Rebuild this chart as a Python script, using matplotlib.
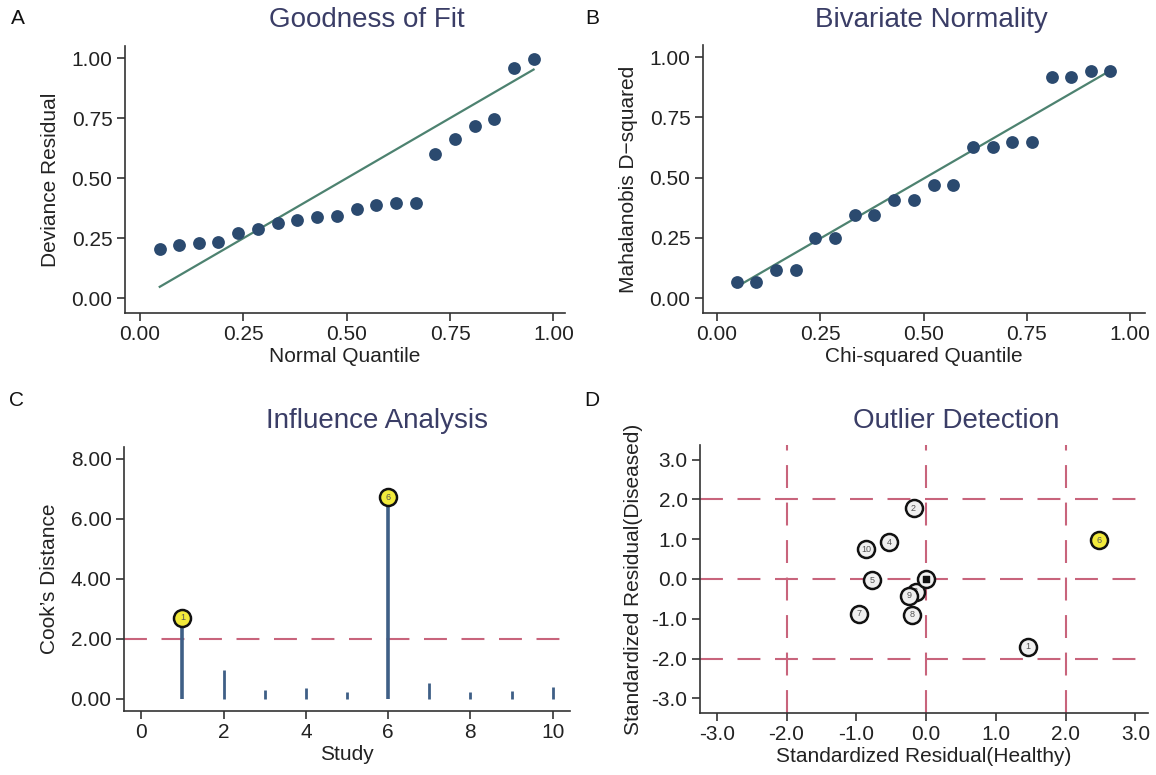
import matplotlib
matplotlib.use("Agg")
import matplotlib.pyplot as plt

plt.rcParams['font.family'] = ['Liberation Sans', 'DejaVu Sans']
plt.rcParams['axes.unicode_minus'] = False

# ---- data ----
quantile = [0.048, 0.095, 0.143, 0.190, 0.238, 0.286, 0.333, 0.381, 0.429, 0.476,
            0.524, 0.571, 0.619, 0.667, 0.714, 0.762, 0.810, 0.857, 0.905, 0.952]
deviance_resid = [0.204, 0.222, 0.229, 0.235, 0.271, 0.290, 0.315, 0.325, 0.340, 0.343,
                  0.371, 0.389, 0.396, 0.398, 0.601, 0.664, 0.718, 0.747, 0.960, 0.995]
mahal_d2 = [0.069, 0.069, 0.116, 0.116, 0.251, 0.251, 0.346, 0.346, 0.408, 0.408,
            0.471, 0.471, 0.628, 0.628, 0.649, 0.649, 0.916, 0.916, 0.944, 0.944]

study = [1, 2, 3, 4, 5, 6, 7, 8, 9, 10]
cooks_d = [2.70, 0.97, 0.30, 0.38, 0.25, 6.72, 0.54, 0.25, 0.28, 0.39]
cooks_cut = 2.0

resid_healthy = [1.46, -0.18, -0.15, -0.53, -0.78, 2.48, -0.96, -0.20, -0.25, -0.86]
resid_diseased = [-1.71, 1.78, -0.32, 0.92, -0.03, 0.98, -0.88, -0.90, -0.42, 0.75]
outliers = [6]        # highlighted in yellow in D
influential = [1, 6]  # highlighted in yellow in C

W, H = 1156, 775
fig = plt.figure(figsize=(W / 100, H / 100), dpi=100)

def px_axes(left, top, right, bottom):
    return fig.add_axes([left / W, 1 - bottom / H, (right - left) / W, (bottom - top) / H])

dot_col = '#2b4a6f'
line_col = '#4d8270'
red_col = '#c8647c'
title_col = '#3a3d66'
stem_col = '#3f5f86'
txt_col = '#222222'

def style(ax):
    for s in ['top', 'right']:
        ax.spines[s].set_visible(False)
    for s in ['left', 'bottom']:
        ax.spines[s].set_linewidth(1.2)
        ax.spines[s].set_color('#333333')
    ax.tick_params(length=6, width=1.2, color='#333333', labelsize=15,
                   labelcolor=txt_col, pad=3)

# ---- A: goodness of fit ----
axA = px_axes(125, 46, 565, 313)
axA.scatter(quantile, deviance_resid, s=85, color=dot_col, zorder=3, linewidths=0)
axA.plot([quantile[0], quantile[-1]], [quantile[0], quantile[-1]], color=line_col, lw=1.6)
axA.set_xlim(-0.036, 1.028)
axA.set_ylim(-0.061, 1.05)
axA.set_xticks([0, 0.25, 0.5, 0.75, 1.0])
axA.set_yticks([0, 0.25, 0.5, 0.75, 1.0])
axA.set_xticklabels(['0.00', '0.25', '0.50', '0.75', '1.00'])
axA.set_yticklabels(['0.00', '0.25', '0.50', '0.75', '1.00'])
style(axA)
axA.set_xlabel('Normal Quantile', fontsize=15, color=txt_col, labelpad=2)
axA.set_ylabel('Deviance Residual', fontsize=15, color=txt_col, labelpad=8)

# ---- B: bivariate normality ----
axB = px_axes(703, 45, 1145, 313)
axB.scatter(quantile, mahal_d2, s=85, color=dot_col, zorder=3, linewidths=0)
axB.plot([quantile[0], quantile[-1]], [quantile[0], quantile[-1] - 0.008], color=line_col, lw=1.6)
axB.set_xlim(-0.034, 1.036)
axB.set_ylim(-0.061, 1.05)
axB.set_xticks([0, 0.25, 0.5, 0.75, 1.0])
axB.set_yticks([0, 0.25, 0.5, 0.75, 1.0])
axB.set_xticklabels(['0.00', '0.25', '0.50', '0.75', '1.00'])
axB.set_yticklabels(['0.00', '0.25', '0.50', '0.75', '1.00'])
style(axB)
axB.set_xlabel('Chi-squared Quantile', fontsize=15, color=txt_col, labelpad=2)
axB.set_ylabel('Mahalanobis D\u2212squared', fontsize=15, color=txt_col, labelpad=8)

# ---- C: influence analysis ----
axC = px_axes(124, 447, 570, 711)
for s_, d in zip(study, cooks_d):
    lw = 2.6 if s_ in influential else 2.0
    axC.plot([s_, s_], [0, d], color=stem_col, lw=lw, solid_capstyle='butt', zorder=2)
axC.axhline(cooks_cut, color=red_col, lw=1.5, dashes=(11, 7), zorder=1)
for s_ in influential:
    d = cooks_d[s_ - 1]
    axC.scatter([s_], [d], s=150, color='#f2ea3c', edgecolors='#111111', linewidths=1.8, zorder=4)
    axC.text(s_, d, str(s_), ha='center', va='center', fontsize=6.5, color='#555555', zorder=5)
axC.set_xlim(-0.42, 10.42)
axC.set_ylim(-0.4, 8.4)
axC.set_xticks([0, 2, 4, 6, 8, 10])
axC.set_yticks([0, 2, 4, 6, 8])
axC.set_yticklabels(['0.00', '2.00', '4.00', '6.00', '8.00'])
style(axC)
axC.set_xlabel('Study', fontsize=15, color=txt_col, labelpad=2)
axC.set_ylabel('Cook\u2019s Distance', fontsize=15, color=txt_col, labelpad=8)

# ---- D: outlier detection ----
axD = px_axes(700, 445, 1148, 713)
for v in [-2, 0, 2]:
    axD.axvline(v, color=red_col, lw=1.5, dashes=(11, 7), zorder=1)
    axD.axhline(v, color=red_col, lw=1.5, dashes=(11, 7), zorder=1)
for s_, x, y in zip(study, resid_healthy, resid_diseased):
    fc = '#f2ea3c' if s_ in outliers else '#f0f0f0'
    axD.scatter([x], [y], s=150, color=fc, edgecolors='#111111', linewidths=1.8, zorder=3)
    axD.text(x, y, str(s_), ha='center', va='center', fontsize=6.5, color='#555555', zorder=3)
axD.scatter([0], [0], s=150, color='#f0f0f0', edgecolors='#111111', linewidths=1.8, zorder=4)
axD.scatter([0], [0], s=22, marker='s', color='#111111', zorder=5)
axD.set_xlim(-3.24, 3.18)
axD.set_ylim(-3.37, 3.37)
ticksD = [-3, -2, -1, 0, 1, 2, 3]
axD.set_xticks(ticksD)
axD.set_yticks(ticksD)
axD.set_xticklabels(['%.1f' % t for t in ticksD])
axD.set_yticklabels(['%.1f' % t for t in ticksD])
style(axD)
axD.set_xlabel('Standardized Residual(Healthy)', fontsize=15, color=txt_col, labelpad=2)
axD.set_ylabel('Standardized Residual(Diseased)', fontsize=15, color=txt_col, labelpad=6)

# titles and panel letters
for x, y, t in [(367, 20, 'Goodness of Fit'), (931, 20, 'Bivariate Normality'),
                (377, 421, 'Influence Analysis'), (956, 421, 'Outlier Detection')]:
    fig.text(x / W, 1 - y / H, t, ha='center', va='center', fontsize=20, color=title_col)
for x, y, t in [(18, 18, 'A'), (592, 18, 'B'), (17, 400, 'C'), (592, 401, 'D')]:
    fig.text(x / W, 1 - y / H, t, ha='center', va='center', fontsize=15, color='#111111')

fig.savefig('out.png', dpi=100)
